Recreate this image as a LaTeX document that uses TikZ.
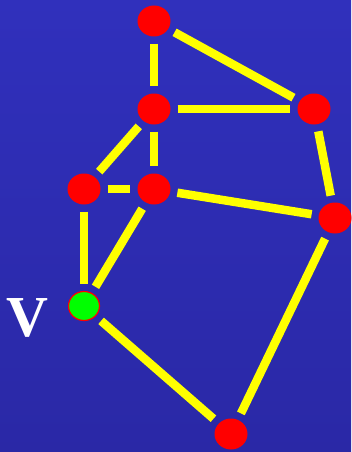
\documentclass[tikz,border=0pt]{standalone}
\usepackage{fontspec}
\setmainfont{Liberation Serif}
\usetikzlibrary{shapes.geometric}
\definecolor{bgtop}{RGB}{48,48,188}
\definecolor{bgbot}{RGB}{42,40,166}
\definecolor{vred}{RGB}{255,0,0}
\definecolor{vgreen}{RGB}{0,255,0}
\definecolor{eyellow}{RGB}{255,255,0}

\begin{document}
\begin{tikzpicture}[x=1pt, y=-1pt,
    vtx/.style={ellipse, fill=vred, minimum width=33pt, minimum height=31pt, inner sep=0pt},
    start/.style={vtx, fill=vgreen, draw=vred, line width=1.2pt, minimum width=31pt, minimum height=29pt},
    edge/.style={draw=eyellow, line width=8.5pt, shorten >=7pt, shorten <=7pt},
    lbl/.style={text=white, font=\fontsize{58}{58}\selectfont\bfseries, inner sep=0pt}
]
\shade[top color=bgtop, bottom color=bgbot] (0,0) rectangle (351,452);
\useasboundingbox (0,0) rectangle (351,452);

\node[vtx] (top) at (154,21) {};
\node[vtx] (mid) at (154,109) {};
\node[vtx] (rtop) at (314,109) {};
\node[vtx] (left) at (84,189) {};
\node[vtx] (cen) at (154,189) {};
\node[vtx] (right) at (335,218) {};
\node[start] (v) at (84,306) {};
\node[vtx] (bot) at (231,434) {};
\node[lbl] (vlbl) at (27,318) {V};

\draw[edge] (top) -- (mid);
\draw[edge] (top) -- (rtop);
\draw[edge] (mid) -- (rtop);
\draw[edge] (mid) -- (left);
\draw[edge] (mid) -- (cen);
\draw[edge] (left) -- (cen);
\draw[edge] (cen) -- (right);
\draw[edge] (rtop) -- (right);
\draw[edge] (left) -- (v);
\draw[edge] (cen) -- (v);
\draw[edge] (v) -- (bot);
\draw[edge] (right) -- (bot);
\end{tikzpicture}
\end{document}
